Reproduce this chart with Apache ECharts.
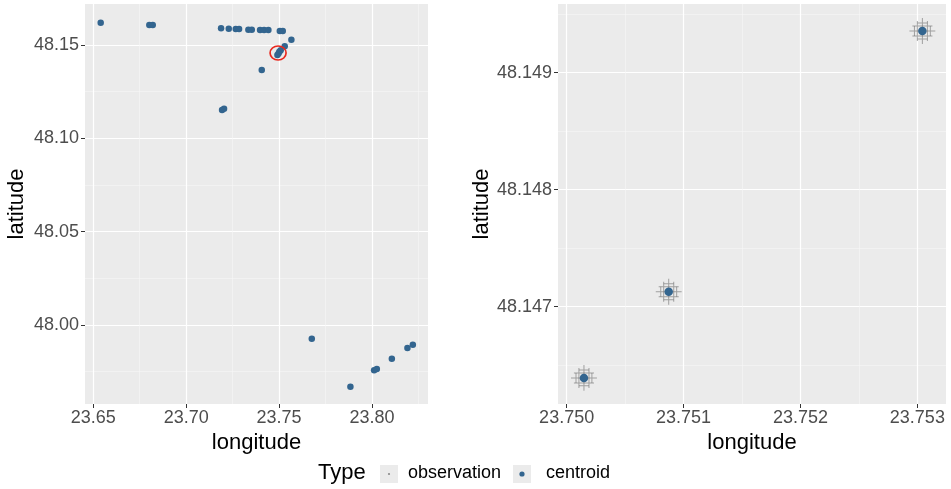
<!DOCTYPE html>
<html><head><meta charset="utf-8">
<script src="https://cdn.jsdelivr.net/npm/echarts@6/dist/echarts.min.js"></script>
<style>html,body{margin:0;padding:0;background:#fff}#c{width:951px;height:489px}</style>
</head><body><div id="c"></div>
<script>
// ---- overview panel (all centroids) ----
const overviewLon = [23.65398, 23.68016, 23.68199, 23.71877, 23.72291, 23.72668, 23.72846, 23.73347, 23.73530, 23.73977, 23.74192, 23.74424, 23.75038, 23.75199, 23.75662, 23.75304, 23.74068, 23.71930, 23.72038, 23.74910, 23.74970, 23.75015, 23.75087, 23.76761, 23.78840, 23.80116, 23.80261, 23.81069, 23.81909, 23.82200];
const overviewLat = [48.16195, 48.16071, 48.16071, 48.15895, 48.15873, 48.15857, 48.15857, 48.15820, 48.15820, 48.15804, 48.15804, 48.15804, 48.15750, 48.15750, 48.15284, 48.14936, 48.13661, 48.11518, 48.11588, 48.14460, 48.14540, 48.14639, 48.14713, 47.99266, 47.96695, 47.97573, 47.97643, 47.98195, 47.98768, 47.98945];
const highlightLon = [23.74946];
const highlightLat = [48.14571];

// ---- zoomed panel ----
const centroidLon = [23.750148, 23.750873, 23.753043];
const centroidLat = [48.146391, 48.147128, 48.149356];
const observationLon = [
  23.750105, 23.750191, 23.750105, 23.750191, 23.750080, 23.750216, 23.750148, 23.750148,
  23.750830, 23.750916, 23.750830, 23.750916, 23.750805, 23.750941, 23.750873, 23.750873,
  23.753000, 23.753086, 23.753000, 23.753086, 23.752975, 23.753111, 23.753043, 23.753043];
const observationLat = [
  48.146434, 48.146434, 48.146348, 48.146348, 48.146391, 48.146391, 48.146459, 48.146323,
  48.147171, 48.147171, 48.147085, 48.147085, 48.147128, 48.147128, 48.147196, 48.147060,
  48.149399, 48.149399, 48.149313, 48.149313, 48.149356, 48.149356, 48.149424, 48.149288];

// ---- tick labels ----
const leftLonTicks = [23.65, 23.70, 23.75, 23.80];
const leftLonMinor = [23.675, 23.725, 23.775, 23.825];
const leftLatTicks = [48.00, 48.05, 48.10, 48.15];
const leftLatMinor = [47.975, 48.025, 48.075, 48.125];
const rightLonTicks = [23.750, 23.751, 23.752, 23.753];
const rightLonMinor = [23.7505, 23.7515, 23.7525];
const rightLatTicks = [48.147, 48.148, 48.149];
const rightLatMinor = [48.1465, 48.1475, 48.1485, 48.1495];

const FONT = "'Liberation Sans', Arial, Helvetica, sans-serif";
const PT = '#33658f';
const zip = (a, b) => a.map((v, i) => [v, b[i]]);

function mainAxis(grid, min, max, ticks, dec, isY, name, gap) {
  return {
    type: 'value', gridIndex: grid, min: min, max: max, scale: true,
    name: name, nameLocation: 'middle', nameGap: gap,
    nameTextStyle: {fontFamily: FONT, fontSize: 22, color: '#000'},
    axisLine: {show: false},
    axisTick: {show: true, length: 4, lineStyle: {color: '#333', width: 1}, customValues: ticks},
    axisLabel: {show: true, customValues: ticks, margin: isY ? 6 : 5, color: '#4D4D4D', fontFamily: FONT, fontSize: 18,
      formatter: v => Number(v).toFixed(dec)},
    splitLine: {show: true, lineStyle: {color: '#FFFFFF', width: 1.2}},
    minorTick: {show: false}, minorSplitLine: {show: false}
  };
}
function minorAxis(grid, min, max, ticks, isY) {
  return {
    type: 'value', gridIndex: grid, min: min, max: max, scale: true,
    position: isY ? 'right' : 'top',
    axisLine: {show: false},
    axisTick: {show: false, customValues: ticks},
    axisLabel: {show: false, customValues: ticks},
    splitLine: {show: true, lineStyle: {color: '#F7F7F7', width: 0.6}}
  };
}

const option = {
  animation: false,
  backgroundColor: '#fff',
  textStyle: {fontFamily: FONT},
  grid: [
    {left: 85, top: 4, width: 343, height: 400, show: true, backgroundColor: '#EBEBEB', borderWidth: 0},
    {left: 558, top: 4, width: 388, height: 400, show: true, backgroundColor: '#EBEBEB', borderWidth: 0}
  ],
  xAxis: [
    minorAxis(0, 23.64553, 23.83016, leftLonMinor, false),
    mainAxis(0, 23.64553, 23.83016, leftLonTicks, 2, false, 'longitude', 22),
    minorAxis(1, 23.749926, 23.753245, rightLonMinor, false),
    mainAxis(1, 23.749926, 23.753245, rightLonTicks, 3, false, 'longitude', 22)
  ],
  yAxis: [
    minorAxis(0, 47.95768, 48.17196, leftLatMinor, true),
    mainAxis(0, 47.95768, 48.17196, leftLatTicks, 2, true, 'latitude', 57),
    minorAxis(1, 48.146168, 48.149587, rightLatMinor, true),
    mainAxis(1, 48.146168, 48.149587, rightLatTicks, 3, true, 'latitude', 59)
  ],
  series: [
    {name: 'centroid', type: 'scatter', xAxisIndex: 1, yAxisIndex: 1, symbol: 'circle', symbolSize: 6.5,
      itemStyle: {color: PT, opacity: 1}, data: zip(overviewLon, overviewLat), z: 3},
    {name: 'highlight', type: 'scatter', xAxisIndex: 1, yAxisIndex: 1, symbol: 'circle', symbolSize: [16, 14],
      itemStyle: {color: 'rgba(0,0,0,0)', borderColor: '#E8281E', borderWidth: 1.6, opacity: 1}, data: zip(highlightLon, highlightLat), z: 4},
    {name: 'observation', type: 'scatter', xAxisIndex: 3, yAxisIndex: 3,
      symbol: 'path://M0,4.5H10V5.5H0Z M4.5,0H5.5V10H4.5Z', symbolSize: 10,
      itemStyle: {color: 'rgba(110,110,110,0.6)', opacity: 1}, data: zip(observationLon, observationLat), z: 2},
    {name: 'centroid', type: 'scatter', xAxisIndex: 3, yAxisIndex: 3, symbol: 'circle', symbolSize: 8.5,
      itemStyle: {color: PT, opacity: 1}, data: zip(centroidLon, centroidLat), z: 3}
  ],
  graphic: [
    {type: 'text', left: 318, top: 462, style: {text: 'Type', font: '22px ' + FONT, fill: '#000'}},
    {type: 'rect', shape: {x: 380, y: 465, width: 18, height: 18}, style: {fill: '#EBEBEB'}},
    {type: 'circle', shape: {cx: 389, cy: 474, r: 1.1}, style: {fill: '#8a8a8a'}},
    {type: 'text', left: 408, top: 464, style: {text: 'observation', font: '18px ' + FONT, fill: '#000'}},
    {type: 'rect', shape: {x: 513, y: 465, width: 18, height: 18}, style: {fill: '#EBEBEB'}},
    {type: 'circle', shape: {cx: 522, cy: 474, r: 2.6}, style: {fill: PT}},
    {type: 'text', left: 546, top: 464, style: {text: 'centroid', font: '18px ' + FONT, fill: '#000'}}
  ]
};
const chart = echarts.init(document.getElementById('c'), null, {renderer: 'canvas'});
chart.setOption(option);
</script>
</body></html>
